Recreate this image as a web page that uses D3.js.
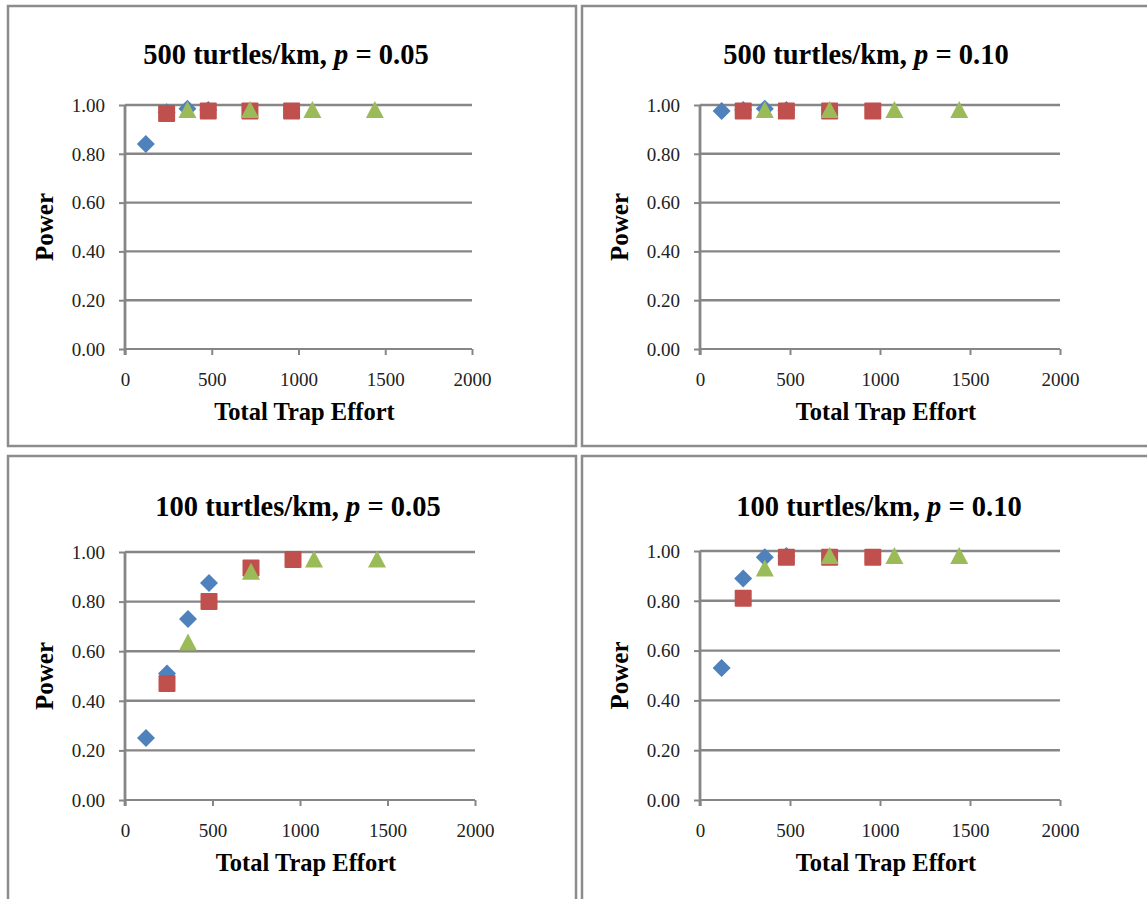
<!DOCTYPE html>
<html><head><meta charset="utf-8">
<script src="https://cdn.jsdelivr.net/npm/d3@7"></script>
<style>body{margin:0;background:#fff;}svg{display:block;}</style>
</head><body>
<svg id="c" width="1147" height="899"></svg>
<script>
// ---- data ----
const panelTitles = ["500 turtles/km, ", "500 turtles/km, ", "100 turtles/km, ", "100 turtles/km, "];
const panelP = ["0.05", "0.10", "0.05", "0.10"];
const xTicks = [0, 500, 1000, 1500, 2000];
const yTicks = [0, 0.2, 0.4, 0.6, 0.8, 1.0];
const blueX = [120, 240, 360, 480];
const redX = [240, 480, 720, 960];
const greenX = [360, 720, 1080, 1440];
// power values per panel
const blueY = [
  [0.84, 0.97, 0.985, 0.98],
  [0.975, 0.98, 0.985, 0.98],
  [0.25, 0.51, 0.73, 0.875],
  [0.53, 0.89, 0.975, 0.98]
];
const redY = [
  [0.965, 0.975, 0.975, 0.975],
  [0.975, 0.975, 0.975, 0.975],
  [0.47, 0.80, 0.935, 0.97],
  [0.81, 0.975, 0.975, 0.975]
];
const greenY = [
  [0.98, 0.98, 0.98, 0.98],
  [0.98, 0.98, 0.98, 0.98],
  [0.635, 0.92, 0.97, 0.97],
  [0.93, 0.98, 0.98, 0.98]
];

// ---- layout ----
const boxes = [
  {bx:8, by:6, bw:568, bh:440, l:125, r:472, t:105, b:349, tx:286, ty:64},
  {bx:582, by:6, bw:580, bh:440, l:700, r:1060, t:105, b:349, tx:866, ty:64},
  {bx:8, by:456, bw:568, bh:460, l:125, r:475, t:552, b:800, tx:298, ty:516},
  {bx:582, by:456, bw:580, bh:460, l:700, r:1060, t:551, b:800, tx:879, ty:516}
];
const colors = {blue:"#4F81BD", red:"#C0504D", green:"#9BBB59"};
const grid = "#868686";
const svg = d3.select("#c");

boxes.forEach((B, i) => {
  const g = svg.append("g");
  g.append("rect").attr("x", B.bx).attr("y", B.by).attr("width", B.bw).attr("height", B.bh)
    .attr("fill", "#fff").attr("stroke", "#8c8c8c").attr("stroke-width", 2.5);

  const x = d3.scaleLinear().domain([0, 2000]).range([B.l, B.r]);
  const y = d3.scaleLinear().domain([0, 1]).range([B.b, B.t]);

  // gridlines
  g.append("g").selectAll("line").data(yTicks.filter(d => d > 0)).join("line")
    .attr("x1", B.l).attr("x2", B.r).attr("y1", d => y(d)).attr("y2", d => y(d))
    .attr("stroke", grid).attr("stroke-width", 2.4);

  // y axis
  const ya = g.append("g").attr("transform", `translate(${B.l},0)`)
    .call(d3.axisLeft(y).tickValues(yTicks).tickFormat(d3.format(".2f")).tickSize(6).tickPadding(14));
  ya.select(".domain").attr("stroke", grid).attr("stroke-width", 2.8).attr("d", `M0,${B.b+6}V${B.t}`);
  ya.selectAll(".tick line").attr("stroke", grid).attr("stroke-width", 2);
  ya.selectAll(".tick text").style("font-family", "Liberation Serif").style("font-size", "19px").attr("fill", "#222").attr("dy", "0.33em");

  // x axis
  const xa = g.append("g").attr("transform", `translate(0,${B.b})`)
    .call(d3.axisBottom(x).tickValues(xTicks).tickFormat(d3.format("d")).tickSize(6).tickPadding(18));
  xa.select(".domain").attr("stroke", grid).attr("stroke-width", 2).attr("d", `M${B.l},0H${B.r}`);
  xa.selectAll(".tick line").attr("stroke", grid).attr("stroke-width", 2);
  xa.selectAll(".tick text").style("font-family", "Liberation Serif").style("font-size", "19px").attr("fill", "#222");

  // title
  const tt = g.append("text").attr("x", B.tx).attr("y", B.ty).attr("text-anchor", "middle")
    .style("font-family", "Liberation Serif").attr("font-weight", "bold").style("font-size", "28.5px").attr("fill", "#000");
  tt.append("tspan").text(panelTitles[i]);
  tt.append("tspan").attr("font-style", "italic").text("p");
  tt.append("tspan").text(" = " + panelP[i]);

  // axis titles
  g.append("text").attr("transform", `translate(${B.l - 72},${(B.t + B.b) / 2}) rotate(-90)`)
    .attr("text-anchor", "middle").style("font-family", "Liberation Serif").attr("font-weight", "bold")
    .style("font-size", "25px").attr("fill", "#000").text("Power");
  g.append("text").attr("x", (B.l + B.r) / 2 + 6).attr("y", B.b + 71).attr("text-anchor", "middle")
    .style("font-family", "Liberation Serif").attr("font-weight", "bold")
    .style("font-size", "24.5px").attr("fill", "#000").text("Total Trap Effort");

  // markers
  const diamond = "M0,-9L9,0L0,9L-9,0Z";
  const square = "M-7.5,-8.5H7.5Q8.5,-8.5 8.5,-7.5V7.5Q8.5,8.5 7.5,8.5H-7.5Q-8.5,8.5 -8.5,7.5V-7.5Q-8.5,-8.5 -7.5,-8.5Z";
  const tri = "M0,-9L9,8H-9Z";
  const series = [
    {xs: blueX, ys: blueY[i], c: colors.blue, d: diamond},
    {xs: redX, ys: redY[i], c: colors.red, d: square},
    {xs: greenX, ys: greenY[i], c: colors.green, d: tri}
  ];
  series.forEach(s => {
    g.append("g").selectAll("path").data(s.xs.map((v, k) => [v, s.ys[k]])).join("path")
      .attr("transform", d => `translate(${x(d[0])},${y(d[1])})`)
      .attr("d", s.d).attr("fill", s.c);
  });
});
</script>
</body></html>
